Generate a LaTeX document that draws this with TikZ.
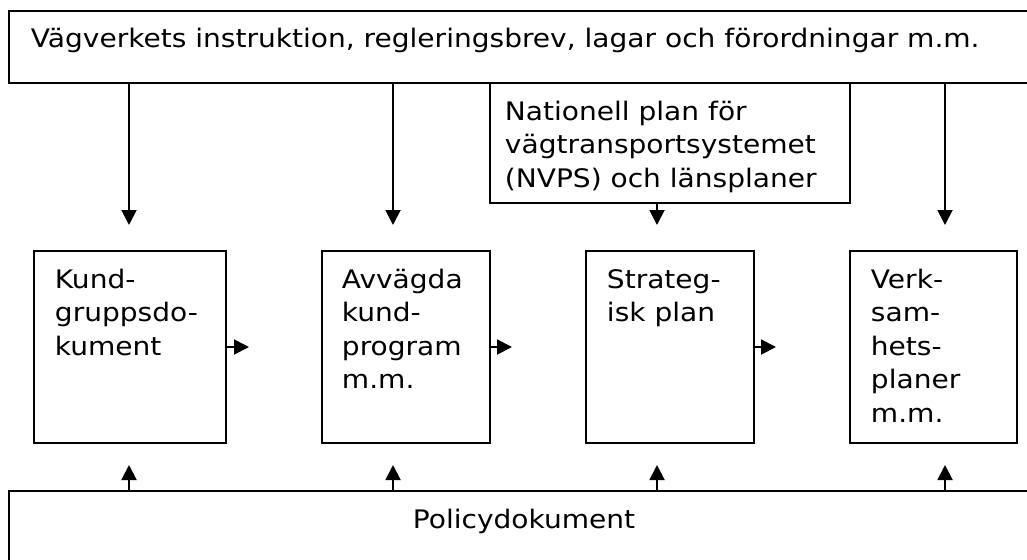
\documentclass[tikz,border=0pt]{standalone}
\usepackage{fontspec}
\setmainfont{DejaVu Sans}[FakeStretch=1.1]
\usetikzlibrary{arrows.meta,positioning}

\begin{document}
\begin{tikzpicture}[x=1pt,y=-1pt,line width=1.9pt,
    >={Triangle[length=15pt,width=15pt]},
    frame/.style={draw,rectangle,inner sep=0pt,anchor=north west},
    doc text/.style={anchor=base west,align=left,inner sep=0pt,
      font=\fontsize{25.5}{33.5}\selectfont}]

  \clip (0,0) rectangle (1027,559);

  % ramar
  \node[frame,minimum width=1033pt,minimum height=72pt] (instr) at (8,10) {};
  \node[frame,minimum width=360pt,minimum height=120pt] (nvps) at (489,82) {};
  \node[frame,minimum width=192pt,minimum height=192pt] (kund) at (33,250) {};
  \node[frame,minimum width=168pt,minimum height=192pt] (avv) at (321,250) {};
  \node[frame,minimum width=168pt,minimum height=192pt] (strat) at (585,250) {};
  \node[frame,minimum width=167pt,minimum height=192pt] (verk) at (849,250) {};
  \node[frame,minimum width=1033pt,minimum height=110pt] (policy) at (8,490) {};

  % texter (base = sista radens baslinje)
  \node[doc text] (instr text) at (30,48)
    {Vägverkets instruktion, regleringsbrev, lagar och förordningar m.m.};
  \node[doc text] (nvps text) at (504,187)
    {Nationell plan för\\vägtransportsystemet\\(NVPS) och länsplaner};
  \node[doc text] (kund text) at (54,355) {Kund-\\gruppsdo-\\kument};
  \node[doc text] (avv text) at (341,388.5) {Avvägda\\kund-\\program\\m.m.};
  \node[doc text] (strat text) at (606,321.5) {Strateg-\\isk plan};
  \node[doc text] (verk text) at (870,422) {Verk-\\sam-\\hets-\\planer\\m.m.};
  \node[anchor=base,inner sep=0pt,font=\fontsize{25.5}{33.5}\selectfont]
    (policy text) at (524,528) {Policydokument};

  % pilspetsar
  \coordinate (kund in) at (129,225);
  \coordinate (avv in) at (393,225);
  \coordinate (strat in) at (657,225);
  \coordinate (verk in) at (945,225);
  \coordinate (kund up) at (129,465);
  \coordinate (avv up) at (393,465);
  \coordinate (strat up) at (657,465);
  \coordinate (verk up) at (945,465);
  \coordinate (to avv) at (249,347);
  \coordinate (to strat) at (512,347);
  \coordinate (to verk) at (776,347);

  % pilar
  \draw[->] (instr.south -| kund in) -- (kund in);
  \draw[->] (instr.south -| avv in) -- (avv in);
  \draw[->] (nvps.south -| strat in) -- (strat in);
  \draw[->] (instr.south -| verk in) -- (verk in);
  \draw[->] (policy.north -| kund up) -- (kund up);
  \draw[->] (policy.north -| avv up) -- (avv up);
  \draw[->] (policy.north -| strat up) -- (strat up);
  \draw[->] (policy.north -| verk up) -- (verk up);
  \draw[->] (kund.east |- to avv) -- (to avv);
  \draw[->] (avv.east |- to strat) -- (to strat);
  \draw[->] (strat.east |- to verk) -- (to verk);
\end{tikzpicture}
\end{document}
